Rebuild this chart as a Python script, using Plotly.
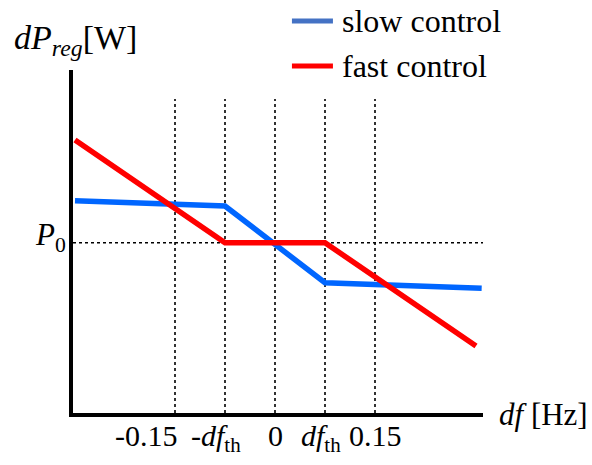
import plotly.graph_objects as go

# ---- data ----
slow_x = [-0.30, -0.075, 0.075, 0.31]
slow_y = [1.247, 1.215, 0.765, 0.732]
fast_x = [-0.30, -0.075, 0.075, 0.3015]
fast_y = [1.603, 1.0, 1.0, 0.393]
grid_x = [-0.15, -0.075, 0.0, 0.075, 0.15]
grid_top = 1.844
p0 = 1.0
tick_labels = ["-0.15", "-<i>df</i><sub>th</sub>", "0", "<i>df</i><sub>th</sub>", "0.15"]
series_names = ["slow control", "fast control"]

# ---- style ----
tick_shift = [-29, -9, 0, -4, 0]
X_RANGE = [-0.303, 0.312]
Y_RANGE = [0, 2.014]
FONT = "Liberation Serif, Times New Roman, serif"
legend_line_colors = ["#4472C4", "#FF0000"]
legend_y = [1.143, 1.0117]

fig = go.Figure()

# dotted guide lines
for gx in grid_x:
    fig.add_trace(go.Scatter(x=[gx, gx], y=[0, grid_top], mode="lines",
                             line=dict(color="black", width=1.6, dash="dot"),
                             showlegend=False, hoverinfo="skip"))
fig.add_trace(go.Scatter(x=[X_RANGE[0], X_RANGE[1]], y=[p0, p0], mode="lines",
                         line=dict(color="black", width=1.6, dash="dot"),
                         showlegend=False, hoverinfo="skip"))

fig.add_trace(go.Scatter(x=slow_x, y=slow_y, mode="lines", name=series_names[0],
                         line=dict(color="#0066FF", width=5.5),
                         showlegend=False))
fig.add_trace(go.Scatter(x=fast_x, y=fast_y, mode="lines", name=series_names[1],
                         line=dict(color="#FF0000", width=5.5),
                         showlegend=False))

# manual legend (swatch + label)
for name, col, ly in zip(series_names, legend_line_colors, legend_y):
    fig.add_shape(type="line", xref="paper", yref="paper",
                  x0=0.534, x1=0.634, y0=ly, y1=ly,
                  line=dict(color=col, width=5))
    fig.add_annotation(x=0.651, xref="paper", y=ly, yref="paper", text=name,
                       showarrow=False, xanchor="left", yanchor="middle", yshift=0,
                       font=dict(family=FONT, size=32, color="black"))

for gx, lab, sh in zip(grid_x, tick_labels, tick_shift):
    fig.add_annotation(x=gx, xref="x", y=0, yref="paper", text=lab,
                       showarrow=False, xanchor="center", yanchor="top",
                       xshift=sh, yshift=-4,
                       font=dict(family=FONT, size=30, color="black"))

fig.add_annotation(x=X_RANGE[0], xref="x", y=p0, yref="y",
                   text="<i>P</i><sub>0</sub>", showarrow=False,
                   xanchor="right", yanchor="middle", xshift=-5, yshift=6,
                   font=dict(family=FONT, size=31, color="black"))

fig.add_annotation(x=1.0, xref="paper", y=0, yref="paper",
                   text="<i>df</i> [Hz]", showarrow=False,
                   xanchor="left", yanchor="middle", xshift=14, yshift=-1,
                   font=dict(family=FONT, size=31, color="black"))

fig.add_annotation(x=0, xref="paper", y=1, yref="paper",
                   text="<i>dP</i><sub><i>reg</i></sub>[W]", showarrow=False,
                   xanchor="left", yanchor="middle", xshift=-61, yshift=30,
                   font=dict(family=FONT, size=34, color="black"))

fig.update_layout(
    width=592, height=465,
    margin=dict(l=73, r=109, t=70, b=52, autoexpand=False),
    paper_bgcolor="white", plot_bgcolor="white",
    font=dict(family=FONT, color="black"),
    showlegend=False,
    xaxis=dict(range=X_RANGE, showgrid=False, zeroline=False, showticklabels=False,
               ticks="", showline=True, linecolor="black", linewidth=4),
    yaxis=dict(range=Y_RANGE, showgrid=False, zeroline=False, showticklabels=False,
               ticks="", showline=True, linecolor="black", linewidth=4),
    hovermode=False,
)

fig.write_html("out.html")
